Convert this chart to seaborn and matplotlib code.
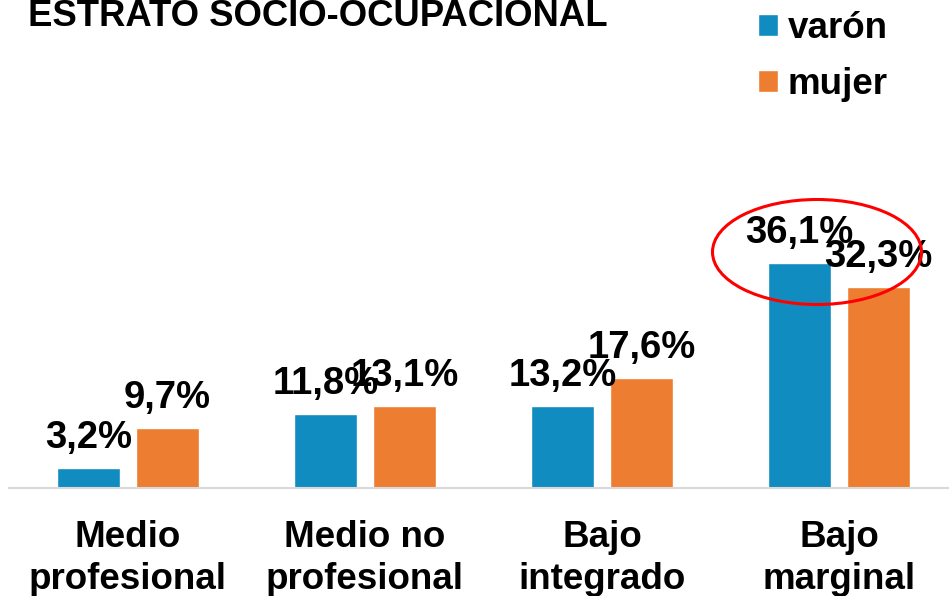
import matplotlib
matplotlib.use("Agg")
import matplotlib.pyplot as plt
from matplotlib.patches import Ellipse
import seaborn as sns
import pandas as pd

categories = ["Medio\nprofesional", "Medio no\nprofesional", "Bajo\nintegrado", "Bajo\nmarginal"]
varon = [3.2, 11.8, 13.2, 36.1]
mujer = [9.7, 13.1, 17.6, 32.3]
series_names = ["varón", "mujer"]
title = "ESTRATO SOCIO-OCUPACIONAL"

sns.set_style("white")
plt.rcParams["font.family"] = ["Liberation Sans", "DejaVu Sans"]
plt.rcParams["font.weight"] = "bold"
plt.rcParams["text.color"] = "black"
plt.rcParams["xtick.color"] = "black"
plt.rcParams["xtick.labelcolor"] = "black"

df = pd.DataFrame({
    "estrato": categories * 2,
    "valor": varon + mujer,
    "sexo": [series_names[0]] * len(categories) + [series_names[1]] * len(categories),
})

fig = plt.figure(figsize=(9.49, 5.96), dpi=100)
ax = fig.add_axes([0.01, 0.1812, 0.999, 0.5227])

sns.barplot(data=df, x="estrato", y="valor", hue="sexo",
            palette=["#118CC0", "#ED7D31"], width=0.667, gap=0.2,
            saturation=1, ax=ax, legend=True)

ax.set_ylim(0, 50)
ax.set_xlim(-0.5, 3.5)
ax.set_xlabel("")
ax.set_ylabel("")
ax.set_yticks([])
for s in ["top", "right", "left"]:
    ax.spines[s].set_visible(False)
ax.spines["bottom"].set_color("#D9D9D9")
ax.spines["bottom"].set_linewidth(1.5)
ax.tick_params(axis="x", length=0, pad=23, labelsize=26.5, labelcolor="black")
for t in ax.get_xticklabels():
    t.set_fontweight("bold")
    t.set_linespacing(1.25)
    t.set_color("black")

for cont in ax.containers:
    for p in cont.patches:
        h = p.get_height()
        ax.annotate(f"{h:.1f}".replace(".", ",") + "%",
                    xy=(p.get_x() + p.get_width() / 2, h),
                    xytext=(0, 14.4), textcoords="offset points",
                    ha="center", va="baseline", fontsize=27.5,
                    fontweight="bold", color="black")

handles, labels = ax.get_legend_handles_labels()
leg = ax.legend(handles, labels, loc="upper left", bbox_to_anchor=(758 / 949, 1 - 11 / 596),
                bbox_transform=fig.transFigure, frameon=False,
                prop={"weight": "bold", "size": 26.5},
                handlelength=0.53, handleheight=0.53, handletextpad=0.28,
                labelspacing=0.58, borderpad=0, borderaxespad=0)
for t in leg.get_texts():
    t.set_color("black")

fig.text(28 / 949, 1 - 26 / 596, title, fontsize=26.3, fontweight="bold",
         ha="left", va="baseline", color="black")

ell = Ellipse((817 / 949, 1 - 252 / 596), 209 / 949, 105 / 596,
              transform=fig.transFigure, fill=False, edgecolor="#FF0000", linewidth=2.2)
fig.patches.append(ell)

fig.savefig("out.png", dpi=100, facecolor="white")
